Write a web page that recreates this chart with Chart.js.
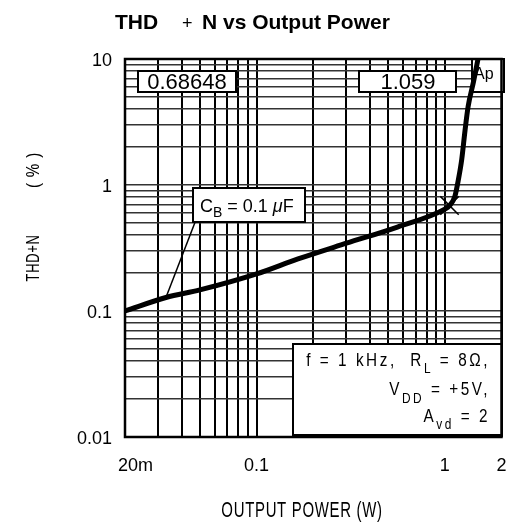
<!DOCTYPE html>
<html>
<head>
<meta charset="utf-8">
<script src="https://cdn.jsdelivr.net/npm/chart.js@4.4.0/dist/chart.umd.min.js"></script>
<style>
  body { margin: 0; background: #fff; }
  #wrap { width: 516px; height: 525px; }
</style>
</head>
<body>
<div id="wrap"><canvas id="thdChart"></canvas></div>
<script>
// THD+N (%) against output power (W), C_B = 0.1 uF
var power = [0.02, 0.033, 0.05, 0.1, 0.166, 0.3, 0.56, 1.0, 1.059, 1.13, 1.18, 1.23, 1.28, 1.33, 1.42, 1.5];
var thdN  = [0.1, 0.128, 0.147, 0.197, 0.259, 0.345, 0.464, 0.644, 0.68648, 0.81, 1.1, 1.6, 2.7, 4.2, 6.6, 10];

// cursor readout shown in the two boxes at the top
var cursorPower = 1.059;
var cursorThd = 0.68648;

// labelled ticks
var xTickValues = [0.02, 0.1, 1, 2];
var xTickLabels = ['20m', '0.1', '1', '2'];
var yTickValues = [10, 1, 0.1, 0.01];
var yTickLabels = ['10', '1', '0.1', '0.01'];

// grid lines: every 1..9 step per decade
var xGrid = [0.02, 0.03, 0.04, 0.05, 0.06, 0.07, 0.08, 0.09,
             0.1, 0.2, 0.3, 0.4, 0.5, 0.6, 0.7, 0.8, 0.9, 1, 2];
var yGrid = [];
[0.01, 0.1, 1].forEach(function (d) {
  for (var k = 1; k < 10; k++) yGrid.push(+(d * k).toPrecision(3));
});
yGrid.push(10);

var FONT = '"Liberation Sans", Arial, sans-serif';

// draw a row of text pieces [text, font, dy], optionally squeezed horizontally
function drawRuns(ctx, runs, x, y, align, sx, spacing) {
  sx = sx || 1;
  ctx.save();
  ctx.letterSpacing = (spacing || 0) + 'px';
  var w = 0;
  runs.forEach(function (r) { ctx.font = r[1]; w += ctx.measureText(r[0]).width; });
  ctx.translate(x, y);
  ctx.scale(sx, 1);
  var cx = align === 'right' ? -w : (align === 'center' ? -w / 2 : 0);
  ctx.textAlign = 'left';
  ctx.textBaseline = 'alphabetic';
  runs.forEach(function (r) {
    ctx.font = r[1];
    ctx.fillText(r[0], cx, r[2] || 0);
    cx += ctx.measureText(r[0]).width;
  });
  ctx.restore();
}

function box(ctx, x1, y1, x2, y2) {
  ctx.fillStyle = '#fff';
  ctx.fillRect(x1, y1, x2 - x1, y2 - y1);
  ctx.strokeStyle = '#000';
  ctx.lineWidth = 2;
  ctx.strokeRect(x1, y1, x2 - x1, y2 - y1);
}

var decor = {
  id: 'decor',
  beforeDatasetsDraw: function (chart) {
    var ctx = chart.ctx;
    var xs = chart.scales.x, ys = chart.scales.y;
    ctx.save();

    // cursor readouts
    box(ctx, 138, 71, 236, 92);
    box(ctx, 359, 71, 456, 92);
    box(ctx, 472, 59, 504, 92);
    ctx.fillStyle = '#000';
    drawRuns(ctx, [[cursorThd.toFixed(5), '22px ' + FONT]], 187, 89, 'center');
    drawRuns(ctx, [[cursorPower.toFixed(3), '22px ' + FONT]], 408, 89, 'center');
    drawRuns(ctx, [['Ap', '16px ' + FONT]], 474, 79, 'left');

    // C_B callout and its leader to the curve
    ctx.strokeStyle = '#000';
    ctx.lineWidth = 1.5;
    ctx.beginPath();
    ctx.moveTo(199, 212);
    ctx.lineTo(xs.getPixelForValue(power[1]), ys.getPixelForValue(thdN[1]));
    ctx.stroke();
    box(ctx, 193, 188, 305, 222);
    ctx.fillStyle = '#000';
    drawRuns(ctx, [
      ['C', '18px ' + FONT],
      ['B', '14px ' + FONT, 5],
      [' = 0.1 ', '18px ' + FONT],
      ['\u03bc', 'italic 18px ' + FONT],
      ['F', '18px ' + FONT]
    ], 200, 212, 'left');

    // test conditions
    box(ctx, 293, 344, 502, 435);
    ctx.fillStyle = '#000';
    var f18 = '18px ' + FONT, f14 = '14px ' + FONT;
    drawRuns(ctx, [['f = 1 kHz,  R', f18], ['L', f14, 7], [' = 8\u03a9,', f18]], 490, 366, 'right', 0.85, 3);
    drawRuns(ctx, [['V', f18], ['DD', f14, 8], [' = +5V,', f18]], 490, 395, 'right', 0.85, 3);
    drawRuns(ctx, [['A', f18], ['vd', f14, 7], [' = 2', f18]], 490, 422, 'right', 0.85, 3);

    ctx.restore();
  },
  afterDraw: function (chart) {
    var ctx = chart.ctx;
    var a = chart.chartArea;
    var xs = chart.scales.x, ys = chart.scales.y;
    ctx.save();

    // frame
    ctx.strokeStyle = '#000';
    ctx.lineWidth = 2.5;
    ctx.strokeRect(a.left, a.top, a.right - a.left, a.bottom - a.top);

    ctx.fillStyle = '#000';
    // y tick labels
    yTickValues.forEach(function (v, i) {
      drawRuns(ctx, [[yTickLabels[i], '18px ' + FONT]], a.left - 13, ys.getPixelForValue(v) + 7, 'right');
    });
    // x tick labels
    xTickValues.forEach(function (v, i) {
      var px = xs.getPixelForValue(v);
      if (i === 0) drawRuns(ctx, [[xTickLabels[i], '18px ' + FONT]], px - 7, 471, 'left');
      else drawRuns(ctx, [[xTickLabels[i], '18px ' + FONT]], px, 471, 'center');
    });

    // axis titles
    drawRuns(ctx, [['OUTPUT POWER (W)', '22px ' + FONT]], 302, 517, 'center', 0.68, 1);
    ctx.save();
    ctx.translate(39, 215);
    ctx.rotate(-Math.PI / 2);
    drawRuns(ctx, [['THD+N', '19px ' + FONT]], -43, 0, 'center', 0.68, 1);
    drawRuns(ctx, [['( % )', '19px ' + FONT]], 45, 0, 'center', 0.8, 1);
    ctx.restore();

    // chart title
    drawRuns(ctx, [['THD', 'bold 21px ' + FONT]], 115, 29, 'left');
    drawRuns(ctx, [['+', '18px ' + FONT]], 182, 29, 'left');
    drawRuns(ctx, [['N vs Output Power', 'bold 21px ' + FONT]], 202, 29, 'left');

    ctx.restore();
  }
};

var ctx = document.getElementById('thdChart');
var thdChart = new Chart(ctx, {
  type: 'line',
  data: {
    datasets: [
      {
        data: power.map(function (p, i) { return { x: p, y: thdN[i] }; }),
        borderColor: '#000',
        borderWidth: 5,
        pointRadius: 0,
        cubicInterpolationMode: 'monotone',
        fill: false
      },
      {
        data: [{ x: cursorPower, y: cursorThd }],
        showLine: false,
        pointStyle: 'crossRot',
        pointRadius: 13,
        borderColor: '#000',
        borderWidth: 1.5
      }
    ]
  },
  options: {
    responsive: true,
    maintainAspectRatio: false,
    animation: false,
    layout: { padding: { left: 125, top: 59, right: 12, bottom: 88 } },
    plugins: {
      legend: { display: false },
      tooltip: { enabled: false },
      title: { display: false }
    },
    scales: {
      x: {
        type: 'logarithmic',
        min: 0.02,
        max: 2,
        afterBuildTicks: function (s) { s.ticks = xGrid.map(function (v) { return { value: v }; }); },
        afterFit: function (s) { s.height = 0; },
        ticks: { display: false },
        grid: { color: '#000', lineWidth: 2, drawTicks: false },
        border: { display: false }
      },
      y: {
        type: 'logarithmic',
        min: 0.01,
        max: 10,
        afterBuildTicks: function (s) { s.ticks = yGrid.map(function (v) { return { value: v }; }); },
        afterFit: function (s) { s.width = 0; },
        ticks: { display: false },
        grid: { color: '#333', lineWidth: 1.5, drawTicks: false },
        border: { display: false }
      }
    }
  },
  plugins: [decor]
});
</script>
</body>
</html>
